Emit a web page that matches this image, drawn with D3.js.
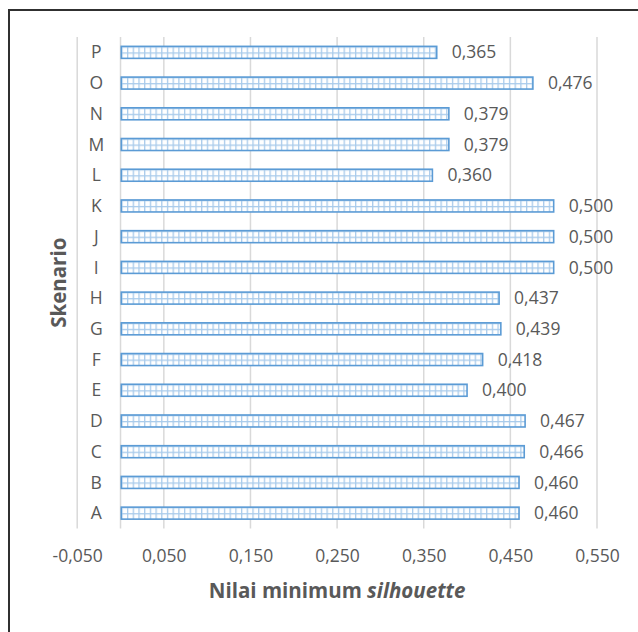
<!DOCTYPE html>
<html><head><meta charset="utf-8">
<script src="https://cdn.jsdelivr.net/npm/d3@7"></script>
<style>body{margin:0;background:#fff}svg{display:block}text{font-family:"Open Sans",sans-serif}</style>
</head><body><svg id="c" width="638" height="632"></svg>
<script>
const categories = ["A","B","C","D","E","F","G","H","I","J","K","L","M","N","O","P"];
const values = [0.460,0.460,0.466,0.467,0.400,0.418,0.439,0.437,0.500,0.500,0.500,0.360,0.379,0.379,0.476,0.365];
const tickValues = [-0.05,0.05,0.15,0.25,0.35,0.45,0.55];
const xTitle = "Nilai minimum ";
const xTitleItalic = "silhouette";
const yTitle = "Skenario";

const svg = d3.select("#c");
const fmt = v => d3.format(".3f")(v).replace(".", ",").replace("−","-");
const pLeft = 77.2, pRight = 597, pTop = 37, pBottom = 528.5;
const x = d3.scaleLinear().domain([-0.05,0.55]).range([pLeft,pRight]);
const y = d3.scaleBand().domain(categories.slice().reverse()).range([pTop,pBottom]);
const bh = 12;
const txt = "#595959";
const fs = "17.5px";

// frame
svg.append("rect").attr("x",9).attr("y",10).attr("width",700).attr("height",700)
  .attr("fill","none").attr("stroke","#303030").attr("stroke-width",2);

// pattern
const defs = svg.append("defs");
const pat = defs.append("pattern").attr("id","grid").attr("patternUnits","userSpaceOnUse")
  .attr("width",5.7).attr("height",bh/2);
pat.append("rect").attr("width",5.7).attr("height",bh/2).attr("fill","#fff");
pat.append("rect").attr("x",0).attr("y",0).attr("width",1.3).attr("height",bh/2).attr("fill","#a9cbeb");
pat.append("rect").attr("x",0).attr("y",0).attr("width",5.7).attr("height",1.3).attr("fill","#a9cbeb");

// gridlines
svg.append("g").selectAll("line").data(tickValues).join("line")
  .attr("x1",d=>x(d)).attr("x2",d=>x(d)).attr("y1",pTop).attr("y2",pBottom)
  .attr("stroke","#d9d9d9").attr("stroke-width",1.5);
// category axis line at 0
svg.append("line").attr("x1",x(0)).attr("x2",x(0)).attr("y1",pTop).attr("y2",pBottom)
  .attr("stroke","#d9d9d9").attr("stroke-width",1.5);

// x axis labels
const xAxis = d3.axisBottom(x).tickValues(tickValues).tickFormat(fmt).tickSize(0).tickPadding(0);
const gx = svg.append("g").attr("transform",`translate(0,${pBottom})`).call(xAxis);
gx.select(".domain").remove();
gx.selectAll("text").attr("y",27).attr("dy","0.35em").attr("fill",txt)
  .style("font-size",fs).style("font-family","'Open Sans',sans-serif");

// y axis labels
const yAxis = d3.axisLeft(y).tickSize(0).tickPadding(0);
const gy = svg.append("g").attr("transform",`translate(${x(-0.028)},0)`).call(yAxis);
gy.select(".domain").remove();
gy.selectAll("text").attr("x",0).attr("text-anchor","middle").attr("dy","0.35em").attr("fill",txt)
  .style("font-size",fs).style("font-family","'Open Sans',sans-serif");

// bars
const data = categories.map((c,i)=>({c, v: values[i]}));
const bars = svg.append("g").selectAll("g").data(data).join("g")
  .attr("transform", d=>`translate(${x(0)+0.75},${y(d.c)+y.bandwidth()/2-bh/2})`);
bars.append("rect").attr("x",0).attr("y",0)
  .attr("width",d=>x(d.v)-x(0)-0.75).attr("height",bh)
  .attr("fill","url(#grid)").attr("stroke","#5b9bd5").attr("stroke-width",1.6);

// data labels
svg.append("g").selectAll("text").data(data).join("text")
  .attr("x",d=>x(d.v)+15).attr("y",d=>y(d.c)+y.bandwidth()/2).attr("dy","0.35em")
  .attr("fill",txt).style("font-size",fs).text(d=>fmt(d.v));

// x title
const xt = svg.append("text").attr("x",(pLeft+pRight)/2).attr("y",591).attr("dy","0.35em")
  .attr("text-anchor","middle").attr("fill",txt).style("font-size","20.5px").style("font-weight","bold");
xt.append("tspan").text(xTitle);
xt.append("tspan").style("font-style","italic").text(xTitleItalic);

// y title
svg.append("text").attr("transform",`translate(59,${(pTop+pBottom)/2}) rotate(-90)`)
  .attr("dy","0.35em").attr("text-anchor","middle").attr("fill",txt)
  .style("font-size","20.5px").style("font-weight","bold").text(yTitle);
</script></body></html>
